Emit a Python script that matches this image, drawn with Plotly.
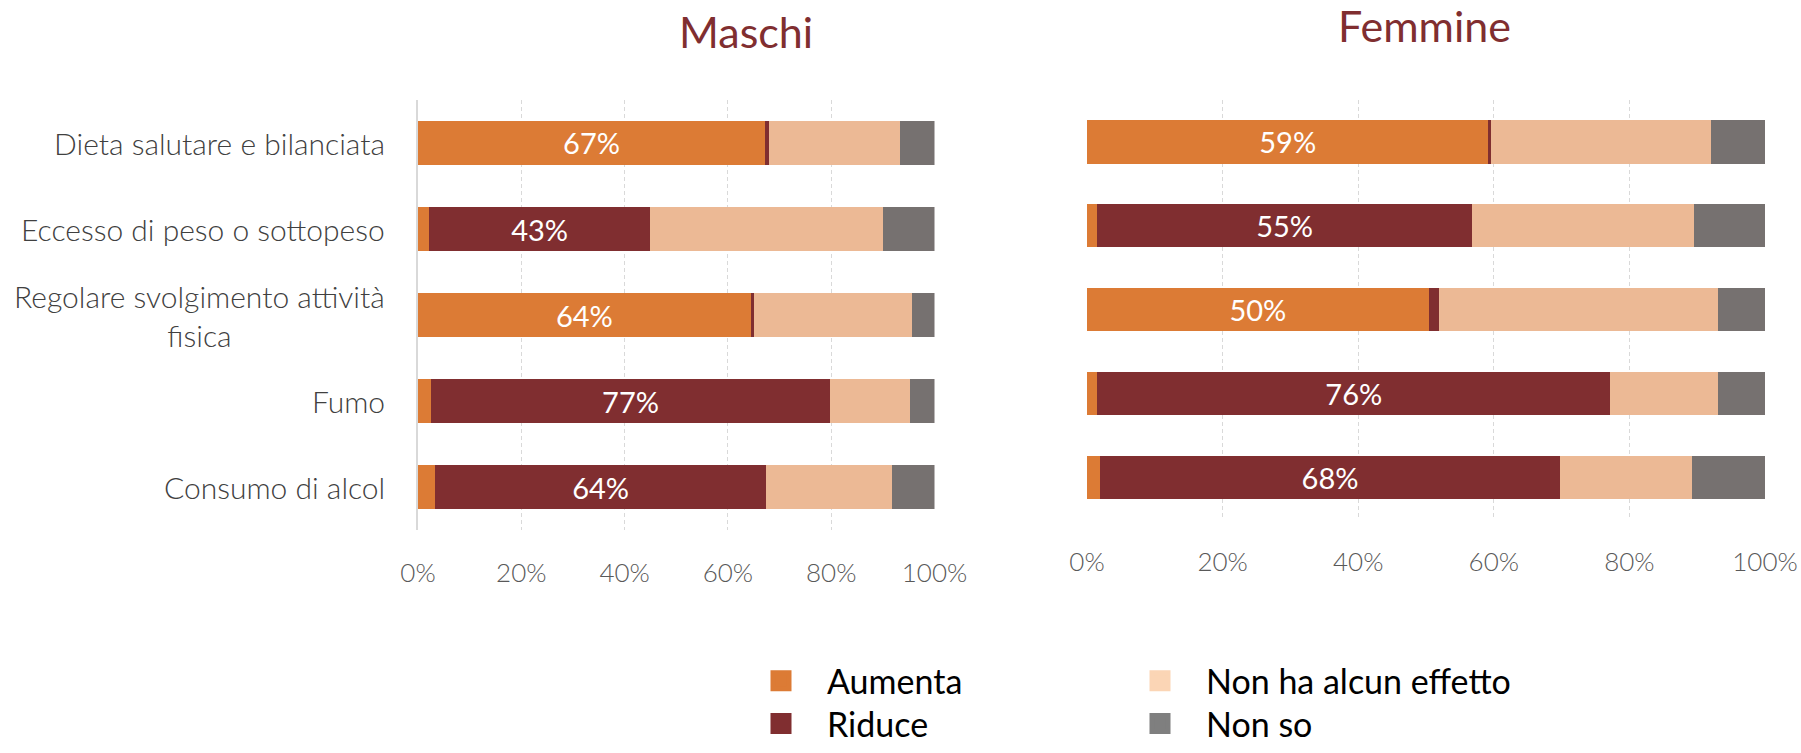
import plotly.graph_objects as go

W, H = 1801, 753

categories = ["Dieta salutare e bilanciata", "Eccesso di peso o sottopeso",
              "Regolare svolgimento attività fisica", "Fumo", "Consumo di alcol"]
category_labels = ["Dieta salutare e bilanciata", "Eccesso di peso o sottopeso",
                   "Regolare svolgimento attività<br>fisica", "Fumo", "Consumo di alcol"]
series_names = ["Aumenta", "Riduce", "Non ha alcun effetto", "Non so"]

# Maschi (percent)
m_aumenta = [67.2, 2.2, 64.4, 2.5, 3.3]
m_riduce = [0.8, 42.7, 0.7, 77.3, 64.1]
m_nonha = [25.3, 45.1, 30.5, 15.4, 24.4]
m_nonso = [6.7, 10.0, 4.4, 4.8, 8.2]

# Femmine (percent)
f_aumenta = [59.2, 1.5, 50.4, 1.5, 1.9]
f_riduce = [0.4, 55.3, 1.5, 75.7, 67.9]
f_nonha = [32.4, 32.8, 41.2, 15.9, 19.5]
f_nonso = [8.0, 10.4, 6.9, 6.9, 10.7]

tick_vals = [0, 20, 40, 60, 80, 100]
tick_text = ["0%", "20%", "40%", "60%", "80%", "100%"]

bar_colors = ["#DC7B35", "#802E30", "#ECB995", "#767170"]
legend_colors = ["#DC7B35", "#802E30", "#FBD5B5", "#7F7F7F"]
title_color = "#802E30"

fig = go.Figure()


def add_panel(series, xa, ya):
    aum, rid = series[0], series[1]
    for i, vals in enumerate(series):
        texts = []
        for k, v in enumerate(vals):
            dom = 0 if aum[k] >= rid[k] else 1
            texts.append(f"{v:.0f}%" if i == dom else "")
        fig.add_trace(go.Bar(
            y=categories, x=vals, orientation="h", name=series_names[i],
            marker=dict(color=bar_colors[i], line=dict(width=0)),
            text=texts, textposition="inside", insidetextanchor="middle",
            textangle=0, constraintext="none",
            textfont=dict(color="white", size=29, family="Lato"),
            xaxis=xa, yaxis=ya, showlegend=False, width=0.515,
            hoverinfo="x+name",
        ))


add_panel([m_aumenta, m_riduce, m_nonha, m_nonso], "x", "y")
add_panel([f_aumenta, f_riduce, f_nonha, f_nonso], "x2", "y2")

# legend-only entries, one small legend per entry (2 x 2 grid)
legend_ids = ["legend", "legend2", "legend3", "legend4"]
for i, name in enumerate(series_names):
    fig.add_trace(go.Scatter(
        x=[None], y=[None], mode="markers", name=name,
        marker=dict(symbol="square", size=16, color=legend_colors[i],
                    line=dict(width=5, color=legend_colors[i])),
        legend=legend_ids[i], xaxis="x", yaxis="y",
    ))

axis_font = dict(family="Lato", size=26, color="#595959", weight=300)

common_x = dict(range=[0, 100], tickvals=tick_vals, ticktext=tick_text,
                showgrid=True, gridcolor="#D9D9D9", gridwidth=1,
                griddash="4px,3px", zeroline=False, showline=False,
                tickfont=axis_font, ticks="", ticklabelstandoff=25,
                ticklabeloverflow="allow",
                automargin=False, fixedrange=True)
common_y = dict(type="category", categoryorder="array", categoryarray=categories,
                autorange="reversed", showticklabels=False, showgrid=False,
                zeroline=False, automargin=False, fixedrange=True)

legend_font = dict(family="Lato", size=34, color="black")


def legend_box(xpix, ypix):
    return dict(x=xpix / W, y=1 - ypix / H, xanchor="left", yanchor="middle",
                font=legend_font, itemwidth=82, bgcolor="rgba(0,0,0,0)",
                itemsizing="trace")


fig.update_layout(
    width=W, height=H,
    margin=dict(l=0, r=0, t=0, b=0),
    paper_bgcolor="white", plot_bgcolor="white",
    barmode="stack",
    xaxis=dict(domain=[418 / W, 934.5 / W], anchor="y", **common_x),
    yaxis=dict(domain=[1 - 541 / H, 1 - 102 / H], anchor="x",
               showline=True, linecolor="#D9D9D9", linewidth=2, **common_y),
    xaxis2=dict(domain=[1087 / W, 1765 / W], anchor="y2", **common_x),
    yaxis2=dict(domain=[1 - 530 / H, 1 - 102 / H], anchor="x2",
                showline=False, **common_y),
    legend=legend_box(735, 695),
    legend2=legend_box(735, 739),
    legend3=legend_box(1114, 695),
    legend4=legend_box(1114, 739),
    showlegend=True,
)

# panel titles
fig.add_annotation(text="Maschi", xref="paper", yref="paper", x=746 / W, y=1 - 32 / H,
                   xanchor="center", yanchor="middle", showarrow=False,
                   font=dict(family="Lato", size=43, color=title_color))
fig.add_annotation(text="Femmine", xref="paper", yref="paper", x=1424 / W, y=1 - 26 / H,
                   xanchor="center", yanchor="middle", showarrow=False,
                   font=dict(family="Lato", size=43, color=title_color))

# category labels (left panel)
for cat, lab in zip(categories, category_labels):
    fig.add_annotation(text=lab, xref="paper", yref="y", x=387 / W, y=cat,
                       xanchor="right", yanchor="middle", align="center",
                       showarrow=False,
                       font=dict(family="Lato", size=30, color="#404040", weight=300))

fig.write_html(
    "out.html",
    config={"displayModeBar": False},
    post_script="document.body.style.margin='0';document.body.style.overflow='hidden';",
)
